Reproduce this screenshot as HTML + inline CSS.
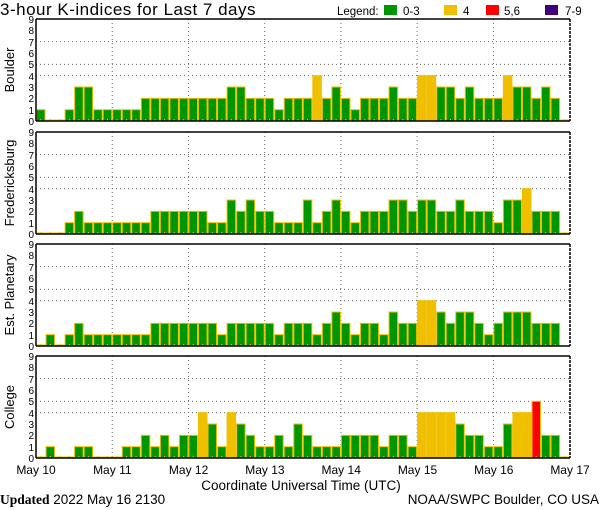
<!DOCTYPE html>
<html><head><meta charset="utf-8"><style>
html,body{margin:0;padding:0;background:#fff}
svg{display:block;font-family:"Liberation Sans",sans-serif}
</style></head><body>
<svg id="s" width="600" height="510" viewBox="0 0 600 510" xmlns="http://www.w3.org/2000/svg">
<text x="0" y="15" font-size="17" letter-spacing="0.5">3-hour K-indices for Last 7 days</text>
<text x="337" y="15" font-size="11.5">Legend:</text>
<rect x="384" y="5" width="13" height="10" fill="#009600"/>
<text x="403" y="15" font-size="11.5">0-3</text>
<rect x="444" y="5" width="13" height="10" fill="#f0c000"/>
<text x="463" y="15" font-size="11.5">4</text>
<rect x="486" y="5" width="13" height="10" fill="#ff0000"/>
<text x="504" y="15" font-size="11.5">5,6</text>
<rect x="545" y="5" width="13" height="10" fill="#400080"/>
<text x="565" y="15" font-size="11.5">7-9</text>
<g id="panels"></g>
<g font-size="10" text-anchor="end">
<g id="lab0">
<text x="34" y="125">0</text><text x="34" y="114">1</text><text x="34" y="102">2</text><text x="34" y="91">3</text><text x="34" y="80">4</text><text x="34" y="68">5</text><text x="34" y="57">6</text><text x="34" y="46">7</text><text x="34" y="34">8</text><text x="34" y="23">9</text>
</g>
<g transform="translate(0,113)"><text x="34" y="125">0</text><text x="34" y="114">1</text><text x="34" y="102">2</text><text x="34" y="91">3</text><text x="34" y="80">4</text><text x="34" y="68">5</text><text x="34" y="57">6</text><text x="34" y="46">7</text><text x="34" y="34">8</text><text x="34" y="23">9</text></g>
<g transform="translate(0,225)"><text x="34" y="125">0</text><text x="34" y="114">1</text><text x="34" y="102">2</text><text x="34" y="91">3</text><text x="34" y="80">4</text><text x="34" y="68">5</text><text x="34" y="57">6</text><text x="34" y="46">7</text><text x="34" y="34">8</text><text x="34" y="23">9</text></g>
<g transform="translate(0,337)"><text x="34" y="125">0</text><text x="34" y="114">1</text><text x="34" y="102">2</text><text x="34" y="91">3</text><text x="34" y="80">4</text><text x="34" y="68">5</text><text x="34" y="57">6</text><text x="34" y="46">7</text><text x="34" y="34">8</text><text x="34" y="23">9</text></g>
</g>
<g font-size="13" text-anchor="middle">
<text transform="translate(14,70) rotate(-90)">Boulder</text>
<text transform="translate(14,183) rotate(-90)">Fredericksburg</text>
<text transform="translate(14,295) rotate(-90)">Est. Planetary</text>
<text transform="translate(14,407) rotate(-90)">College</text>
</g>
<g font-size="12" text-anchor="middle">
<text x="36" y="474">May 10</text>
<text x="112.3" y="474">May 11</text>
<text x="188.6" y="474">May 12</text>
<text x="264.9" y="474">May 13</text>
<text x="341.2" y="474">May 14</text>
<text x="417.5" y="474">May 15</text>
<text x="493.8" y="474">May 16</text>
<text x="570" y="474">May 17</text>
</g>
<text x="301" y="490" font-size="13.5" text-anchor="middle">Coordinate Universal Time (UTC)</text>
<text x="0" y="504" font-size="13.5"><tspan font-weight="bold" font-family="Liberation Serif,serif">Updated</tspan> 2022 May 16 2130</text>
<text x="599" y="504" font-size="13.5" text-anchor="end">NOAA/SWPC Boulder, CO USA</text>
</svg>
<script>
var data=[
[1,0,0,1,3,3,1,1,1,1,1,2,2,2,2,2,2,2,2,2,3,3,2,2,2,1,2,2,2,4,2,3,2,1,2,2,2,3,2,2,4,4,3,3,2,3,2,2,2,4,3,3,2,3,2,0],
[0,0,0,1,2,1,1,1,1,1,1,1,2,2,2,2,2,2,1,1,3,2,3,2,2,1,1,1,3,1,2,3,2,1,2,2,2,3,3,2,3,3,2,2,3,2,2,2,1,3,3,4,2,2,2,0],
[0,1,0,1,2,1,1,1,1,1,1,1,2,2,2,2,2,2,2,1,2,2,2,2,2,1,2,2,2,1,2,3,2,1,2,2,1,3,2,2,4,4,3,2,3,3,2,1,2,3,3,3,2,2,2,-1],
[0,1,0,0,1,1,0,0,0,1,1,2,1,2,1,2,2,4,3,1,4,3,2,1,1,2,1,3,2,1,1,1,2,2,2,2,1,2,2,1,4,4,4,4,3,2,2,1,1,3,4,4,5,2,2,0]];
var tops=[19,132,244,356],H=102,U=H/9,X0=36,BW=533.6/56;
var g=document.getElementById("panels"),h="";
data.forEach(function(d,p){
 var T=tops[p],B=T+H;
 [4,5,7].forEach(function(v){var y=B-v*U;h+='<line x1="36" x2="570" y1="'+y+'" y2="'+y+'" stroke="#666" stroke-dasharray="1,3"/>';});
 for(var k=1;k<7;k++){var x=X0+k*8*BW;h+='<line x1="'+x+'" x2="'+x+'" y1="'+T+'" y2="'+B+'" stroke="#666" stroke-dasharray="1,3"/>';}
 d.forEach(function(v,i){
  if(v<0)return;
  var x=X0+i*BW,hh=v==0?1:v*U,c=v<=3?"#009600":v==4?"#f0c000":v<=6?"#ff0000":"#400080";
  h+='<rect x="'+(x+0.5)+'" y="'+(B-hh)+'" width="'+(BW-1)+'" height="'+hh+'" fill="'+c+'" stroke="#f0c000" stroke-width="1"/>';
  h+='<line x1="'+(x+BW/2)+'" x2="'+(x+BW/2)+'" y1="'+(B-2)+'" y2="'+B+'" stroke="#f0c000"/>';
 });
 h+='<line x1="36" x2="570" y1="'+T+'" y2="'+T+'" stroke="#000" stroke-width="1.5"/>';
 h+='<line x1="36" x2="570" y1="'+B+'" y2="'+B+'" stroke="#000" stroke-width="1.5"/>';
 h+='<line x1="36" x2="36" y1="'+T+'" y2="'+B+'" stroke="#000" stroke-width="1.5"/>';
 h+='<line x1="570" x2="570" y1="'+T+'" y2="'+B+'" stroke="#000" stroke-width="1.5" stroke-dasharray="3,1"/>';
});
g.innerHTML=h;
</script>
</body></html>
